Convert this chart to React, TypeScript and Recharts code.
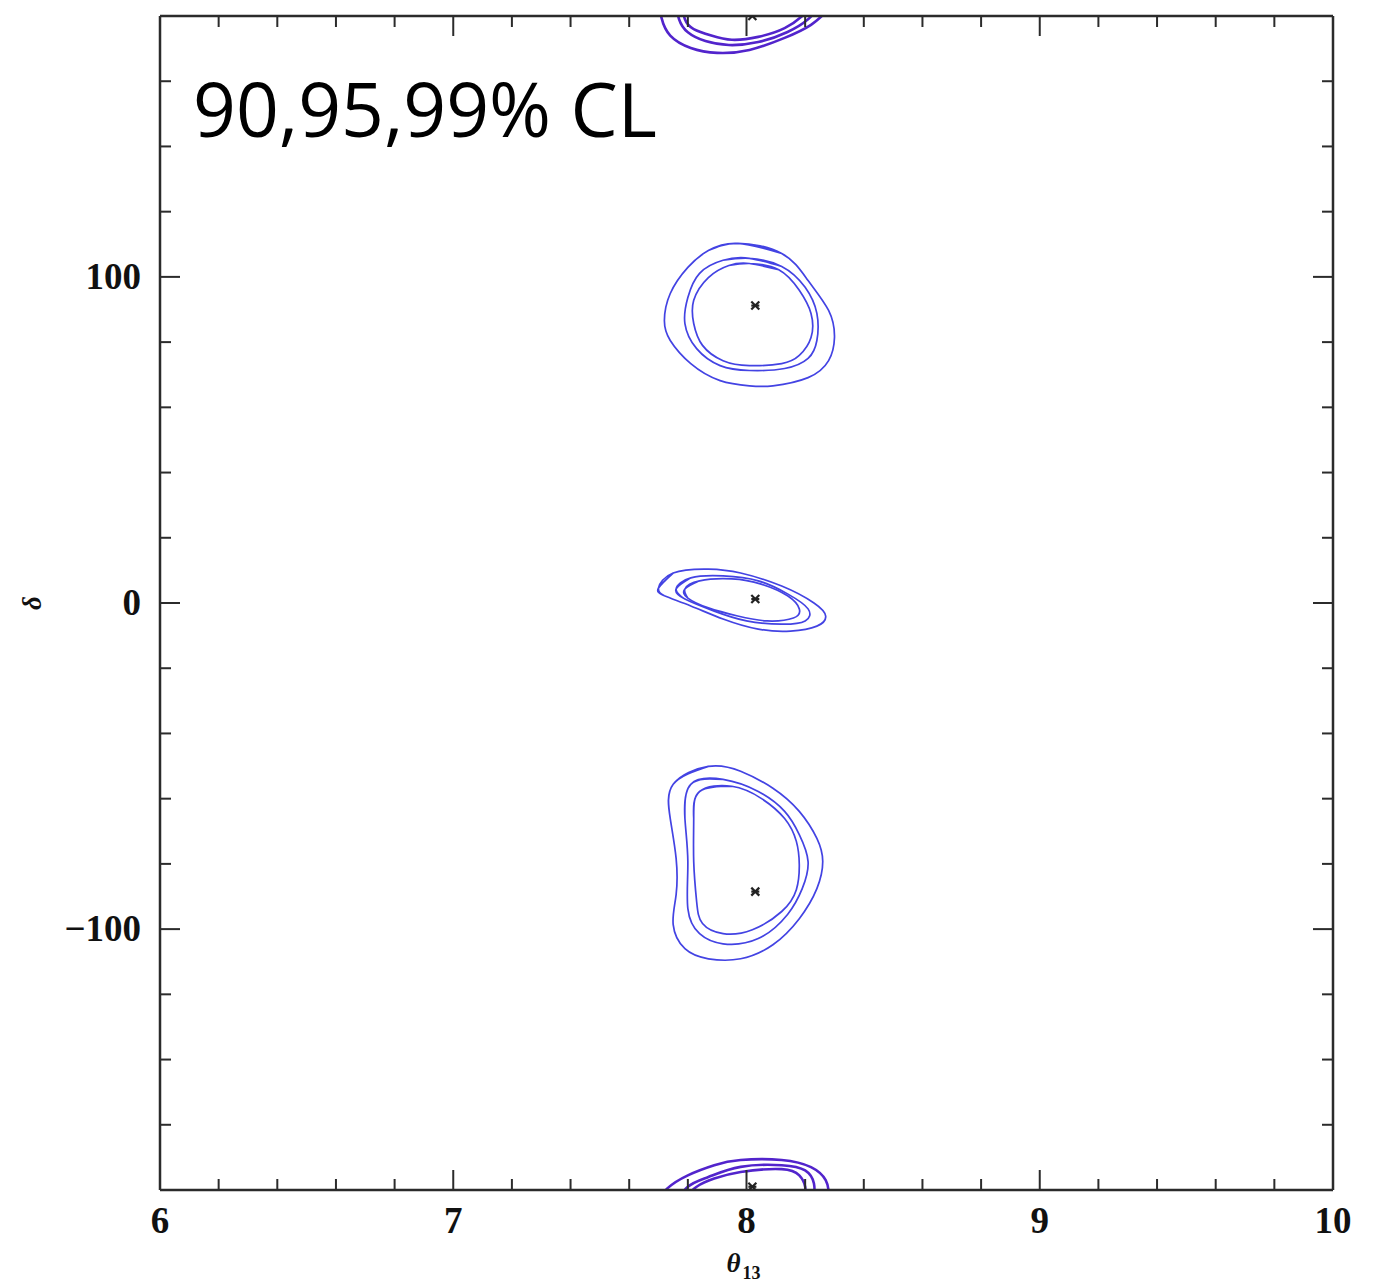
import * as React from "react";
import { ComposedChart, Line, Scatter, XAxis, YAxis, Label } from "recharts";

// theta13 ticks (every 0.2) and delta ticks (every 20)
const xTicks = [6, 6.2, 6.4, 6.6, 6.8, 7, 7.2, 7.4, 7.6, 7.8, 8, 8.2, 8.4, 8.6, 8.8, 9, 9.2, 9.4, 9.6, 9.8, 10];
const yTicks = [-180, -160, -140, -120, -100, -80, -60, -40, -20, 0, 20, 40, 60, 80, 100, 120, 140, 160, 180];
const clText = "90,95,99% CL";

// best fit points
const bestFit = [
    { x: 8.03, y: 91.2 },
    { x: 8.03, y: 1.2 },
    { x: 8.03, y: -88.5 },
    { x: 8.02, y: 180 },
    { x: 8.02, y: -179 },
];

// contours around delta ~ +90
const a99 = [[7.97, 110.3], [8.12, 107.2], [8.21, 98.9], [8.28, 89.7], [8.30, 81.4], [8.28, 74.3], [8.21, 69.1], [8.09, 66.6], [8.01, 66.6], [7.91, 68.2], [7.81, 73.4], [7.74, 80.5], [7.72, 86.6], [7.74, 94.9], [7.80, 102.9], [7.87, 108.1], [7.97, 110.3]];
const a95 = [[8.01, 105.7], [8.12, 103.2], [8.20, 96.8], [8.24, 88.8], [8.24, 80.5], [8.21, 75.0], [8.13, 71.9], [8.01, 71.3], [7.91, 72.8], [7.83, 78.0], [7.79, 85.7], [7.80, 93.7], [7.84, 101.1], [7.92, 105.1], [8.01, 105.7]];
const a90 = [[8.01, 104.1], [8.11, 102.2], [8.18, 95.9], [8.22, 88.8], [8.22, 81.4], [8.18, 75.9], [8.12, 73.4], [8.01, 72.8], [7.92, 74.3], [7.85, 79.0], [7.82, 85.7], [7.82, 92.8], [7.87, 99.8], [7.94, 103.5], [8.01, 104.1]];

// contours around delta ~ 0
const b99 = [[7.70, 4.6], [7.75, 9.2], [7.87, 10.4], [7.98, 9.2], [8.12, 5.2], [8.23, 0], [8.27, -4.0], [8.24, -7.1], [8.15, -8.6], [8.04, -8.0], [7.92, -4.9], [7.81, -0.9], [7.72, 2.2], [7.70, 4.6]];
const b95 = [[7.76, 4.3], [7.81, 7.7], [7.92, 8.3], [8.04, 6.8], [8.14, 2.8], [8.21, -1.8], [8.20, -5.5], [8.12, -6.5], [8.00, -5.5], [7.89, -2.5], [7.79, 1.2], [7.76, 4.3]];
const b90 = [[7.79, 4.3], [7.84, 6.8], [7.95, 7.4], [8.05, 5.8], [8.14, 2.2], [8.18, -1.8], [8.16, -4.6], [8.07, -5.5], [7.97, -4.0], [7.87, -1.5], [7.80, 1.5], [7.79, 4.3]];

// contours around delta ~ -90
const c99 = [[7.75, -55.6], [7.87, -50.1], [7.98, -51.6], [8.09, -56.8], [8.18, -63.9], [8.24, -72.2], [8.26, -79.3], [8.24, -87.6], [8.18, -96.8], [8.09, -104.8], [7.98, -109.1], [7.87, -109.1], [7.79, -106.0], [7.75, -98.6], [7.76, -89.4], [7.76, -78.3], [7.74, -66.1], [7.75, -55.6]];
const c95 = [[7.81, -55.6], [7.92, -54.1], [8.04, -57.8], [8.13, -63.9], [8.18, -71.0], [8.21, -79.3], [8.19, -87.6], [8.14, -95.5], [8.04, -102.9], [7.92, -104.5], [7.84, -101.4], [7.80, -93.7], [7.80, -79.3], [7.79, -66.1], [7.81, -55.6]];
const c90 = [[7.84, -57.8], [7.95, -56.2], [8.05, -59.9], [8.13, -66.1], [8.17, -73.1], [8.18, -80.2], [8.17, -87.9], [8.12, -94.6], [8.02, -100.2], [7.92, -101.4], [7.85, -98.3], [7.83, -91.6], [7.82, -79.3], [7.82, -66.1], [7.84, -57.8]];

// contours wrapping through delta = +-180: piece hanging from the top edge
const t99 = [[7.70, 185], [7.71, 179.5], [7.74, 174], [7.81, 170.2], [7.90, 168.7], [8.01, 169.6], [8.13, 173.3], [8.22, 177.3], [8.28, 182]];
const t95 = [[7.76, 184], [7.77, 179], [7.80, 175], [7.86, 172.3], [7.94, 171.1], [8.04, 172.0], [8.14, 175.1], [8.21, 179], [8.25, 183]];
const t90 = [[7.78, 184], [7.79, 179], [7.82, 176], [7.88, 174], [7.95, 172.7], [8.04, 173.6], [8.13, 176.3], [8.19, 180], [8.22, 183]];

// same contours, piece rising from the bottom edge
const u99 = [[7.69, -184], [7.73, -179.5], [7.80, -175.5], [7.89, -172.4], [7.98, -170.8], [8.12, -170.8], [8.22, -173], [8.27, -177], [8.28, -182], [8.27, -187]];
const u95 = [[7.75, -185], [7.80, -179], [7.87, -176.0], [7.98, -172.9], [8.12, -172.4], [8.20, -174], [8.23, -178], [8.23, -183]];
const u90 = [[7.77, -184], [7.83, -179], [7.89, -176.5], [7.98, -174.5], [8.12, -173.6], [8.18, -175.5], [8.20, -179], [8.20, -184]];

const pts = (arr: number[][]) => arr.map(([x, y]) => ({ x, y }));
// closed loop: overlap one point on each side so the spline has no corner at the seam
const loop = (arr: number[][]) => pts([arr[arr.length - 2], ...arr, arr[1]]);

const mainContours = [a99, a95, a90, b99, b95, b90, c99, c95, c90];
const edgeContours = [t99, t95, t90, u99, u95, u90];

const frame = "#2b2b2b";
const tickFont: any = { fontFamily: "'Liberation Serif', serif", fontWeight: 700, fontSize: 37, fill: "#111" };

const isMajorX = (v: number) => Math.abs(v - Math.round(v)) < 1e-6;
const isMajorY = (v: number) => Math.abs(v % 100) < 1e-6;

const BottomTick = ({ x, y, payload }: any) => {
    const major = isMajorX(payload.value);
    return (
        <g>
            <line x1={x} x2={x} y1={y} y2={y - (major ? 20 : 11)} stroke={frame} strokeWidth={2} />
            {major && <text x={x} y={y + 43} textAnchor="middle" {...tickFont}>{Math.round(payload.value)}</text>}
        </g>
    );
};

const TopTick = ({ x, y, payload }: any) => {
    const major = isMajorX(payload.value);
    return <line x1={x} x2={x} y1={y} y2={y + (major ? 20 : 11)} stroke={frame} strokeWidth={2} />;
};

const LeftTick = ({ x, y, payload }: any) => {
    const major = isMajorY(payload.value);
    const v = payload.value;
    return (
        <g>
            <line x1={x} x2={x + (major ? 20 : 11)} y1={y} y2={y} stroke={frame} strokeWidth={2} />
            {major && (
                <text x={x - 19} y={y + 12} textAnchor="end" {...tickFont}>
                    {v < 0 ? "\u2212" + Math.abs(v) : v}
                </text>
            )}
        </g>
    );
};

const RightTick = ({ x, y, payload }: any) => {
    const major = isMajorY(payload.value);
    return <line x1={x} x2={x - (major ? 20 : 11)} y1={y} y2={y} stroke={frame} strokeWidth={2} />;
};

const Star = ({ cx, cy }: any) => (
    <g stroke="#222" strokeWidth={2.2}>
        <line x1={cx - 4} x2={cx + 4} y1={cy - 4} y2={cy + 4} />
        <line x1={cx - 4} x2={cx + 4} y1={cy + 4} y2={cy - 4} />
        <line x1={cx - 4} x2={cx + 4} y1={cy} y2={cy} />
    </g>
);

const NoShape = () => <g />;

const XTitle = ({ viewBox }: any) => {
    const cx = viewBox.x + viewBox.width / 2;
    const by = viewBox.y + 82;
    return (
        <text x={cx - 20} y={by} fontFamily="'Liberation Serif', serif" fontStyle="italic" fontWeight={700} fontSize={27} fill="#111">
            θ<tspan fontSize={18} fontStyle="normal" dx={2} dy={7}>13</tspan>
        </text>
    );
};

const YTitle = ({ viewBox }: any) => {
    const cx = viewBox.x - 19;
    const cy = viewBox.y + viewBox.height / 2;
    return (
        <text x={cx} y={cy} transform={`rotate(-90, ${cx}, ${cy})`} textAnchor="middle" fontFamily="'Liberation Serif', serif" fontStyle="italic" fontWeight={700} fontSize={27} fill="#111">
            δ
        </text>
    );
};

export default function App() {
    return (
        <div style={{ position: "absolute", left: 0, top: 0, width: 1381, height: 1283, background: "#fff" }}>
            <ComposedChart width={1381} height={1283} margin={{ top: 15, right: 47, left: 60, bottom: 33 }}>
                <XAxis xAxisId="b" dataKey="x" type="number" domain={[6, 10]} ticks={xTicks} allowDataOverflow
                       orientation="bottom" height={60} tickSize={0} tickMargin={0} interval={0}
                       axisLine={{ stroke: frame, strokeWidth: 2.5 }} tickLine={false} tick={<BottomTick />}>
                    <Label content={<XTitle />} />
                </XAxis>
                <XAxis xAxisId="t" dataKey="x" type="number" domain={[6, 10]} ticks={xTicks} allowDataOverflow
                       orientation="top" height={1} tickSize={0} tickMargin={0} interval={0}
                       axisLine={{ stroke: frame, strokeWidth: 2.5 }} tickLine={false} tick={<TopTick />} />
                <YAxis yAxisId="l" dataKey="y" type="number" domain={[-180, 180]} ticks={yTicks} allowDataOverflow
                       orientation="left" width={100} tickSize={0} tickMargin={0} interval={0}
                       axisLine={{ stroke: frame, strokeWidth: 2.5 }} tickLine={false} tick={<LeftTick />}>
                    <Label content={<YTitle />} />
                </YAxis>
                <YAxis yAxisId="r" dataKey="y" type="number" domain={[-180, 180]} ticks={yTicks} allowDataOverflow
                       orientation="right" width={1} tickSize={0} tickMargin={0} interval={0}
                       axisLine={{ stroke: frame, strokeWidth: 2.5 }} tickLine={false} tick={<RightTick />} />
                {mainContours.map((c, i) => (
                    <Line key={"m" + i} data={loop(c)} dataKey="y" xAxisId="b" yAxisId="l" type="natural"
                          stroke="#4343e3" strokeWidth={1.7} dot={false} activeDot={false} isAnimationActive={false} />
                ))}
                {edgeContours.map((c, i) => (
                    <Line key={"e" + i} data={pts(c)} dataKey="y" xAxisId="b" yAxisId="l" type="natural"
                          stroke="#5224cc" strokeWidth={2.6} dot={false} activeDot={false} isAnimationActive={false} />
                ))}
                <Scatter data={bestFit} dataKey="y" xAxisId="b" yAxisId="l" shape={<Star />} isAnimationActive={false} />
                <Scatter data={bestFit} dataKey="y" xAxisId="t" yAxisId="r" shape={<NoShape />} isAnimationActive={false} />
                <text x={193} y={137} fontFamily="'Open Sans', sans-serif" fontSize={75} fill="#000">{clText}</text>
            </ComposedChart>
        </div>
    );
}
